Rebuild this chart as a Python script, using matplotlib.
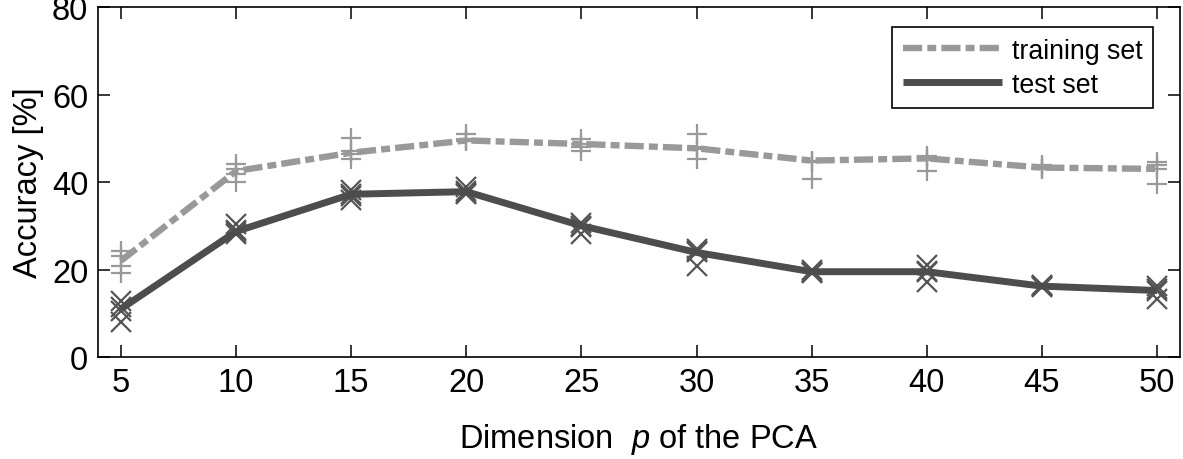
import numpy as np
import matplotlib
matplotlib.use("Agg")
import matplotlib.pyplot as plt

# data
dims = [5, 10, 15, 20, 25, 30, 35, 40, 45, 50]
train_mean = [22.0, 42.5, 46.7, 49.5, 48.7, 47.7, 44.9, 45.4, 43.3, 43.0]
test_mean = [11.0, 28.7, 37.2, 37.8, 30.0, 23.9, 19.5, 19.5, 16.2, 15.2]
train_runs = [
    [24.2, 23.0, 20.9, 19.3],
    [44.1, 42.9, 41.8, 39.9],
    [50.0, 47.0, 46.5, 45.3],
    [51.0, 49.8, 49.4, 49.4],
    [49.8, 48.7, 47.9, 47.2],
    [51.0, 47.9, 47.5, 45.3],
    [44.9, 44.9, 44.5, 40.7],
    [46.0, 45.4, 45.0, 42.6],
    [43.8, 43.4, 43.0, 43.0],
    [44.5, 43.8, 43.0, 39.5],
]
test_runs = [
    [12.9, 11.5, 10.6, 7.9],
    [30.4, 29.0, 28.5, 28.1],
    [38.2, 37.2, 36.8, 35.8],
    [38.8, 38.0, 37.5, 37.3],
    [30.6, 30.0, 29.8, 28.1],
    [24.7, 24.2, 24.0, 20.9],
    [19.8, 19.5, 19.4, 19.2],
    [21.0, 19.7, 19.5, 17.1],
    [16.5, 16.3, 16.2, 16.0],
    [16.3, 15.6, 15.2, 13.3],
]

plt.rcParams['font.family'] = ['Liberation Sans', 'DejaVu Sans']
plt.rcParams['mathtext.fontset'] = 'custom'
plt.rcParams['mathtext.it'] = 'Liberation Sans:italic'
plt.rcParams['mathtext.rm'] = 'Liberation Sans'

light = '#999999'
dark = '#4d4d4d'
fs = 23.5

fig = plt.figure(figsize=(11.83, 4.6), dpi=100)
ax = fig.add_axes([0.0828, 0.2217, 0.9147, 0.7609])

# individual runs
for x, tr, te in zip(dims, train_runs, test_runs):
    ax.plot([x] * len(tr), tr, linestyle='none', marker='+', ms=14, mew=1.6, color=light, zorder=2)
    ax.plot([x] * len(te), te, linestyle='none', marker='x', ms=14, mew=1.6, color='#555555', zorder=2)

ax.plot(dims, train_mean, color=light, lw=4.6, dashes=(3.0, 0.8, 1.4, 0.8), label='training set', zorder=3)
ax.plot(dims, test_mean, color=dark, lw=5, solid_capstyle='butt', label='test set', zorder=3)

ax.set_xlim(4, 51)
ax.set_ylim(0, 80)
ax.set_xticks(dims)
ax.set_yticks([0, 20, 40, 60, 80])
ax.tick_params(direction='in', length=8.5, width=1.1, labelsize=fs, top=True, right=True, pad=7)
for s in ax.spines.values():
    s.set_linewidth(1.2)

ax.set_xlabel(r'Dimension  $p$ of the PCA', fontsize=fs, labelpad=17)
ax.set_ylabel('Accuracy [%]', fontsize=fs, labelpad=6)

leg = ax.legend(loc='upper right', fontsize=19.3, frameon=True, fancybox=False, framealpha=1,
                edgecolor='black', borderpad=0.4, handlelength=3.7, handletextpad=0.35,
                labelspacing=0.3, borderaxespad=0, bbox_to_anchor=(0.975, 0.943))
leg.get_frame().set_linewidth(1.2)

fig.savefig('out.png', dpi=100)
